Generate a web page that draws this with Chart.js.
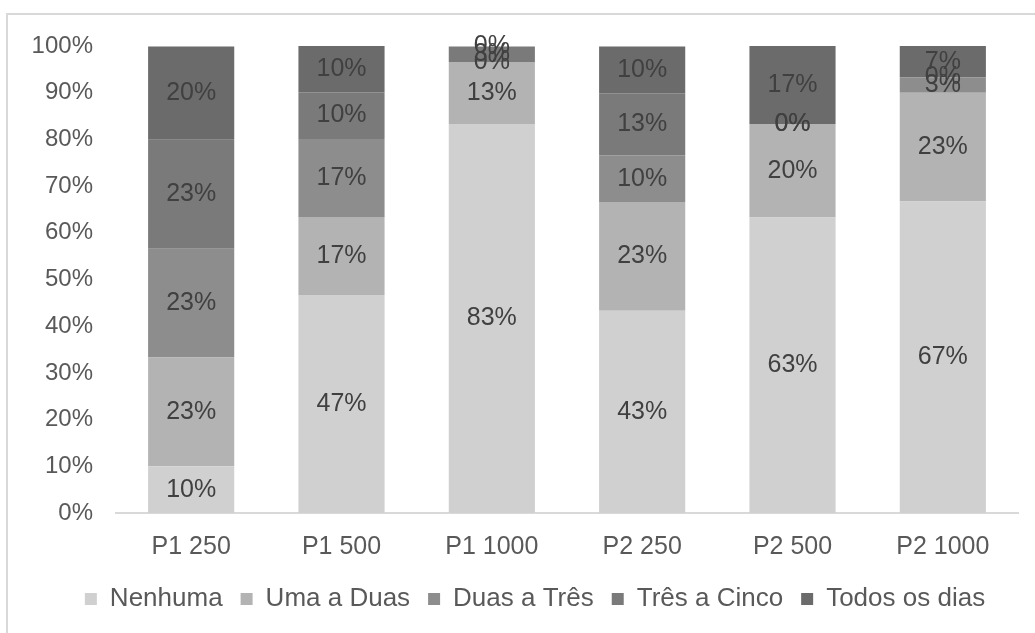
<!DOCTYPE html>
<html>
<head>
<meta charset="utf-8">
<script src="https://cdn.jsdelivr.net/npm/chart.js@4.4.1/dist/chart.umd.min.js"></script>
<style>
  body { margin: 0; background: #fff; overflow: hidden; }
  #wrap { position: relative; width: 1035px; height: 633px; }
  #frame { position: absolute; left: 6px; top: 13px; width: 1100px; height: 700px; border: 2px solid #d9d9d9; }
  canvas { position: absolute; left: 0; top: 0; }
</style>
</head>
<body>
<div id="wrap">
  <div id="frame"></div>
  <canvas id="chart" width="1035" height="633"></canvas>
</div>
<script>
// categories and series (percent of answers)
const categories = ['P1 250', 'P1 500', 'P1 1000', 'P2 250', 'P2 500', 'P2 1000'];
const seriesNames = ['Nenhuma', 'Uma a Duas', 'Duas a Três', 'Três a Cinco', 'Todos os dias'];
const nenhuma     = [10,   46.7, 83.3, 43.3, 63.3, 66.7];
const umaADuas    = [23.3, 16.7, 13.3, 23.3, 20,   23.3];
const duasATres   = [23.3, 16.7, 0,    10,   0,    3.3];
const tresACinco  = [23.3, 10,   3.3,  13.3, 0,    0];
const todosOsDias = [20,   10,   0,    10,   16.7, 6.7];
const yTicks = [0, 10, 20, 30, 40, 50, 60, 70, 80, 90, 100];

const colors = ['#d0d0d0', '#b3b3b3', '#8d8d8d', '#7a7a7a', '#6b6b6b'];
const allData = [nenhuma, umaADuas, duasATres, tresACinco, todosOsDias];

const FONT = "'Liberation Sans', Arial, sans-serif";

// draw the % text in the middle of every segment
const segLabels = {
  id: 'segLabels',
  afterDatasetsDraw(chart) {
    const ctx = chart.ctx;
    ctx.save();
    ctx.font = '25px ' + FONT;
    ctx.fillStyle = '#404040';
    ctx.textAlign = 'center';
    ctx.textBaseline = 'middle';
    chart.data.datasets.forEach((ds, i) => {
      const meta = chart.getDatasetMeta(i);
      meta.data.forEach((bar, j) => {
        const v = ds.data[j];
        ctx.fillText(Math.round(v) + '%', bar.x, (bar.y + bar.base) / 2);
      });
    });
    ctx.restore();
  }
};

// legend sits a bit right of the centre in the original
const legendShift = {
  id: 'legendShift',
  afterLayout(chart) {
    if (chart.legend) chart.legend.left += 52;
  }
};

new Chart(document.getElementById('chart'), {
  type: 'bar',
  data: {
    labels: categories,
    datasets: seriesNames.map((name, i) => ({
      label: name,
      data: allData[i],
      backgroundColor: colors[i],
      borderWidth: 0,
      categoryPercentage: 1,
      barPercentage: 0.573
    }))
  },
  options: {
    responsive: false,
    animation: false,
    layout: { padding: { top: 46, right: 17, left: 0, bottom: 11 } },
    plugins: {
      tooltip: { enabled: false },
      legend: {
        position: 'bottom',
        labels: {
          boxWidth: 12,
          boxHeight: 12,
          padding: 18,
          color: '#595959',
          font: { family: FONT, size: 26 }
        }
      }
    },
    scales: {
      x: {
        stacked: true,
        grid: { display: false, drawTicks: false },
        border: { display: true, color: '#d9d9d9', width: 2 },
        ticks: { color: '#595959', padding: 19, font: { family: FONT, size: 25 } },
        afterFit(s) { s.height = 55; }
      },
      y: {
        stacked: true,
        min: 0,
        max: 100,
        grid: { display: false, drawTicks: false },
        border: { display: false },
        afterBuildTicks(s) { s.ticks = yTicks.map(v => ({ value: v })); },
        ticks: {
          color: '#595959',
          padding: 23,
          font: { family: FONT, size: 24 },
          callback: v => v + '%'
        },
        afterFit(s) { s.width = 116; }
      }
    }
  },
  plugins: [segLabels, legendShift]
});
</script>
</body>
</html>
